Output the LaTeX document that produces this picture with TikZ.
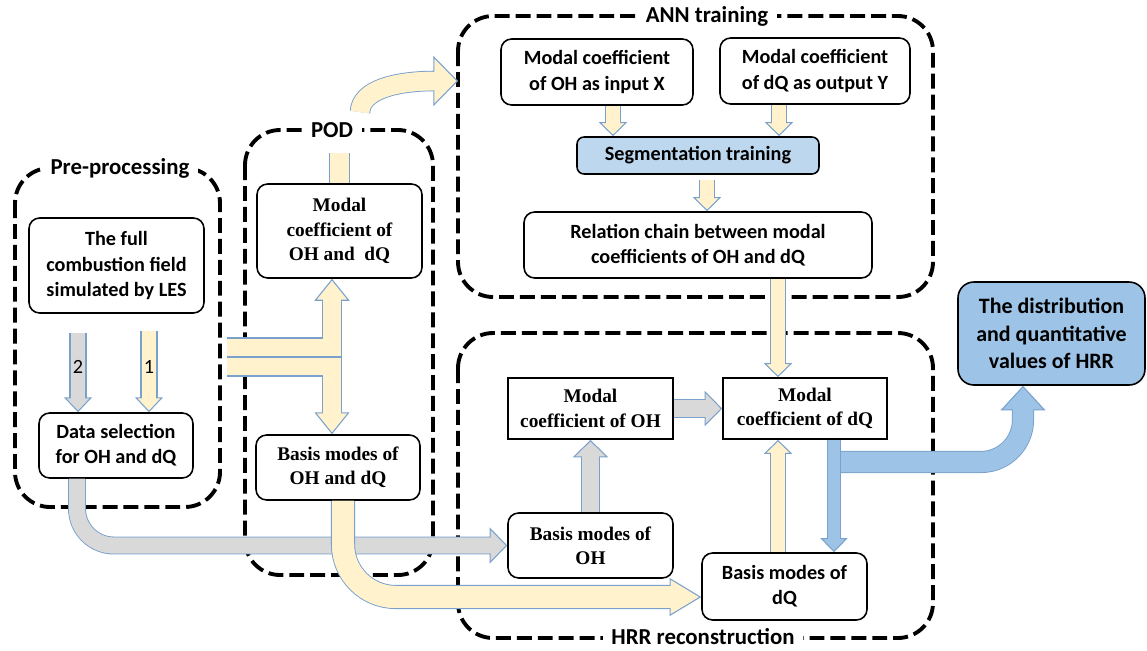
\documentclass[tikz,border=0pt]{standalone}
\usepackage{fontspec}
\setmainfont{Carlito}
\newfontfamily\camfont{Liberation Serif}
\usetikzlibrary{arrows.meta}

\definecolor{hrrYellow}{RGB}{255,242,204}
\definecolor{hrrGray}{RGB}{217,217,217}
\definecolor{hrrBlue}{RGB}{157,195,230}
\definecolor{hrrSeg}{RGB}{189,215,238}
\definecolor{hrrEdge}{RGB}{122,160,204}

\tikzset{
  fat/.style n args={4}{draw=#1, line width=#2,
    -{Triangle[width=#3,length=#4,fill=#1,color=hrrEdge,line width=0.6pt]},
    preaction={draw=hrrEdge, line width=#2+1.2pt, -, shorten >=#4-1pt},
    postaction={draw=#1, line width=#2, -, shorten >=#4-2pt}},
  fatbar/.style n args={2}{draw=#1, line width=#2,
    preaction={draw=hrrEdge, line width=#2+1.2pt}},
}

\begin{document}
\begin{tikzpicture}[x=0.02cm, y=-0.02cm,
  frame/.style={line width=2.2pt, dash pattern=on 8.5pt off 3.4pt, rounded corners=20pt},
  grouplabel/.style={fill=white, inner xsep=5pt, inner ysep=1pt, font=\fontsize{13}{15}\selectfont\bfseries},
  box/.style={draw, line width=0.9pt, rounded corners=6pt, fill=white, align=center, inner sep=1pt,
    font=\fontsize{11.5}{14.3}\selectfont\bfseries},
  camb/.style={box, font=\fontsize{11}{13.8}\selectfont\camfont\bfseries},
  ysm/.style={fat={hrrYellow}{8.2pt}{16pt}{8pt}},
  gsm/.style={fat={hrrGray}{8.5pt}{16pt}{8.5pt}},
  ythin/.style={fat={hrrYellow}{7.5pt}{16pt}{8pt}},
  ymid/.style={fat={hrrYellow}{10.2pt}{20pt}{12.5pt}},
  gmid/.style={fat={hrrGray}{9.7pt}{20pt}{10pt}},
  bsm/.style={fat={hrrBlue}{7pt}{15.5pt}{8pt}},
]
\useasboundingbox (0,0) rectangle (1147,650);

%% dashed groups
\draw[frame] (15,168) rectangle (220,507);
\draw[frame] (245,130) rectangle (433,575);
\draw[frame] (458,16) rectangle (933,297);
\draw[frame] (458,333) rectangle (933,638);
\node[grouplabel] (lpre) at (120,168) {Pre-processing};
\node[grouplabel] (lpod) at (332,130) {POD};
\node[grouplabel] (lann) at (707,16) {ANN training};
\node[grouplabel] (lhrr) at (703,637) {HRR reconstruction};

%% Pre-processing
\node[box, minimum width=3.5cm, minimum height=1.9cm] (les) at (116.5,265.5) {The full\\combustion field\\simulated by LES};
\node[box, minimum width=3.08cm, minimum height=1.3cm] (sel) at (116,445.5) {Data selection\\for OH and dQ};

%% POD
\node[camb, minimum width=3.3cm, minimum height=1.88cm] (podc) at (339.5,231) {Modal\\coefficient of\\OH and~~dQ};
\node[camb, minimum width=3.28cm, minimum height=1.3cm] (podb) at (338,467.5) {Basis modes of\\OH and dQ};

%% ANN training
\node[box, minimum width=3.84cm, minimum height=1.32cm] (annx) at (597,72) {Modal coefficient\\of OH as input X};
\node[box, minimum width=3.8cm, minimum height=1.32cm] (anny) at (815,71) {Modal coefficient\\of dQ as output Y};
\node[box, fill=hrrSeg, rounded corners=4pt, minimum width=4.84cm, minimum height=0.74cm] (seg) at (698,155.5) {Segmentation training};
\node[box, minimum width=6.96cm, minimum height=1.32cm] (rel) at (698,245) {Relation chain between modal\\coefficients of OH and dQ};

%% HRR reconstruction
\node[camb, sharp corners, minimum width=3.3cm, minimum height=1.22cm] (hoh) at (590.5,408.5) {Modal\\coefficient of OH};
\node[camb, sharp corners, minimum width=3.28cm, minimum height=1.22cm] (hdq) at (805,408.5) {Modal\\coefficient of dQ};
\node[camb, minimum width=3.3cm, minimum height=1.3cm] (boh) at (590.5,545.5) {Basis modes of\\OH};
\node[box, minimum width=3.3cm, minimum height=1.34cm] (bdq) at (784.5,586.5) {Basis modes of\\dQ};

\node[box, fill=hrrBlue, rounded corners=9pt, minimum width=3.74cm, minimum height=2.06cm,
  font=\fontsize{12.5}{15.5}\selectfont\bfseries] (out) at (1051.5,333.5) {The distribution\\and quantitative\\values of HRR};

%% guides for the arrows
\coordinate (x2) at (78,0);
\coordinate (x1) at (149,0);
\coordinate (xin) at (613,0);
\coordinate (xout) at (779,0);
\coordinate (xseg) at (707,0);
\coordinate (xa) at (778,0);
\coordinate (xb) at (834,0);
\coordinate (xc) at (1023,0);
\coordinate (xg) at (77,0);
\coordinate (xy) at (343,0);
\coordinate (xt) at (332,0);
\coordinate (yl) at (0,597);
\coordinate (tup) at (227,347.5);
\coordinate (tdown) at (227,366.5);
\coordinate (ftop) at (339.5,153);
\coordinate (podup) at (360,112);
\coordinate (annin) at (458,81);
\coordinate (bstart) at (838,462);

%% arrows
\draw[gsm, shorten <=10.8pt] (les.south -| x2) -- (sel.north -| x2)
  node[pos=0.54, font=\fontsize{11.5}{13}\selectfont] (n2) {2};
\draw[fat={hrrYellow}{8.5pt}{16pt}{8.5pt}, shorten <=10pt] (les.south -| x1) -- (sel.north -| x1)
  node[pos=0.54, font=\fontsize{11.5}{13}\selectfont] (n1) {1};
\draw[ymid] (tup) -| (podc.south -| xt);
\draw[ymid] (tdown) -| (podb.north -| xt);
\draw[fatbar={hrrYellow}{10.8pt}] (podc.north) -- (ftop);
\draw[fat={hrrYellow}{10.5pt}{28.5pt}{14pt}] (podup) .. controls (361,90) and (395,81) .. (annin);

\draw[ysm] (annx.south -| xin) -- (seg.north -| xin);
\draw[ysm] (anny.south -| xout) -- (seg.north -| xout);
\draw[ysm, shorten <=3pt] (seg.south -| xseg) -- (rel.north -| xseg);
\draw[ythin] (rel.south -| xa) -- (hdq.north -| xa);

\draw[gmid] (hoh.east) -- (hdq.west);
\draw[gmid] (boh.north) -- (hoh.south);
\draw[ythin] (bdq.north -| xa) -- (hdq.south -| xa);
\draw[fat={hrrBlue}{11.4pt}{25.6pt}{14pt}, rounded corners=24pt] (bstart) -| (out.south -| xc);
\draw[bsm] (hdq.south -| xb) -- (bdq.north -| xb);

\draw[fat={hrrGray}{9pt}{20.5pt}{10pt}, rounded corners=21pt] (sel.south -| xg) |- (boh.west);
\draw[fat={hrrYellow}{12.5pt}{21.6pt}{18pt}, rounded corners=30pt] (podb.south -| xy) |- (bdq.west |- yl);
\end{tikzpicture}
\end{document}
